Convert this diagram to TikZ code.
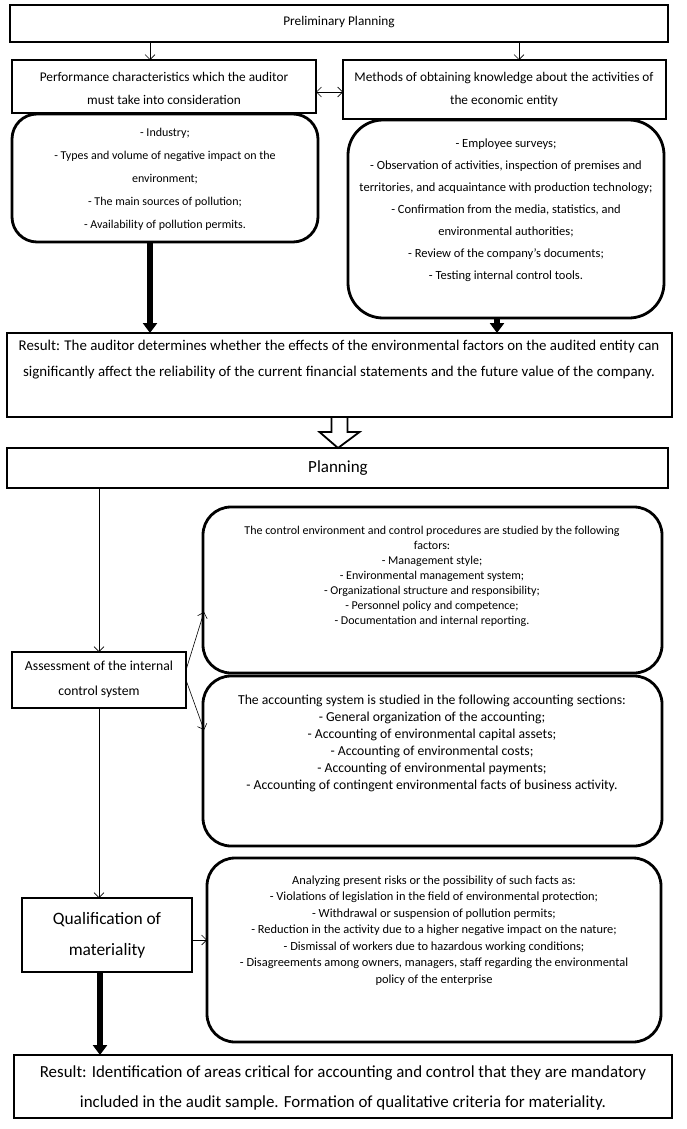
\documentclass[tikz,border=0pt]{standalone}
\usepackage{fontspec}
\setmainfont{Carlito}
\usetikzlibrary{arrows.meta,calc}
\newcommand\myfs[2]{\fontsize{#1}{#2}\selectfont}
\begin{document}
\begin{tikzpicture}[x=1pt,y=-1pt,
  sq/.style={draw,line width=2.8pt,inner sep=0pt,outer sep=0pt,anchor=north west},
  rnd/.style={sq,rounded corners=#1},
  rnd/.default=28pt,
  txt/.style={align=center,inner sep=0pt,anchor=north},
  thinarr/.style={line width=0.6pt,-{Straight Barb[length=5pt,width=10pt,line width=0.6pt]}},
  dblarr/.style={line width=0.6pt,{Straight Barb[length=5pt,width=10pt,line width=0.6pt]}-{Straight Barb[length=5pt,width=10pt,line width=0.6pt]}},
  thickarr/.style={line width=6pt,-{Triangle[length=10pt,width=14pt]}},
  hollow/.style={line width=1.8pt,line join=miter},
]
\useasboundingbox (0,0) rectangle (686,1129);
\fill[white] (0,0) rectangle (686,1129);

% boxes
\node[sq,minimum width=658pt,minimum height=37pt] (prelim) at (10,5) {};
\node[sq,minimum width=304pt,minimum height=53pt] (perf) at (12,60) {};
\node[sq,minimum width=323pt,minimum height=59pt] (meth) at (343,60) {};
\node[rnd=25pt,minimum width=306pt,minimum height=128pt] (lr) at (12,114) {};
\node[rnd=35pt,minimum width=316pt,minimum height=198pt] (rr) at (348,120) {};
\node[sq,minimum width=665pt,minimum height=84pt] (res1) at (7,333) {};
\node[sq,minimum width=661pt,minimum height=40pt] (plan) at (7,448) {};
\node[rnd,minimum width=459pt,minimum height=166pt] (b1) at (203,507) {};
\node[rnd,minimum width=459pt,minimum height=170pt] (b2) at (203,676) {};
\node[sq,minimum width=174pt,minimum height=56pt] (asm) at (12,652) {};
\node[sq,minimum width=170pt,minimum height=74pt] (qual) at (22,898) {};
\node[rnd,minimum width=454pt,minimum height=184pt] (b3) at (207,858) {};
\node[sq,minimum width=658pt,minimum height=63pt] (res2) at (14,1055) {};

% texts
\node[txt,font=\myfs{13.3}{15}] (tprelim) at (339,16.5) {Preliminary Planning};
\node[txt,font=\myfs{13.3}{23}] (tperf) at (164,72.3) {Performance characteristics which the auditor\\must take into consideration};
\node[txt,font=\myfs{13.3}{23}] (tmeth) at (504,72.3) {Methods of obtaining knowledge about the activities of\\the economic entity};
\node[txt,font=\myfs{12}{23}] (tlr) at (165,128) {- Industry;\\- Types and volume of negative impact on the\\environment;\\- The main sources of pollution;\\- Availability of pollution permits.};
\node[txt,font=\myfs{12.5}{22}] (trr) at (506,139) {- Employee surveys;\\- Observation of activities, inspection of premises and\\territories, and acquaintance with production technology;\\- Confirmation from the media, statistics, and\\environmental authorities;\\- Review of the company’s documents;\\- Testing internal control tools.};
\node[txt,font=\myfs{14.9}{26}] (tres1) at (339,340) {Result: The auditor determines whether the effects of the environmental factors on the audited entity can\\significantly affect the reliability of the current financial statements and the future value of the company.};
\node[txt,font=\myfs{17}{19}] (tplan) at (338,460.5) {Planning};
\node[txt,font=\myfs{12}{15}] (tb1) at (432,526.4) {The control environment and control procedures are studied by the following\\factors:\\- Management style;\\- Environmental management system;\\- Organizational structure and responsibility;\\- Personnel policy and competence;\\- Documentation and internal reporting.};
\node[txt,font=\myfs{13.7}{17}] (tb2) at (432,694.3) {The accounting system is studied in the following accounting sections:\\- General organization of the accounting;\\- Accounting of environmental capital assets;\\- Accounting of environmental costs;\\- Accounting of environmental payments;\\- Accounting of contingent environmental facts of business activity.};
\node[txt,font=\myfs{13.7}{25}] (tasm) at (99,661) {Assessment of the internal\\control system};
\node[txt,font=\myfs{17.4}{31}] (tqual) at (107,912) {Qualification of\\materiality};
\node[txt,font=\myfs{12.4}{16.5}] (tb3) at (434,875.2) {Analyzing present risks or the possibility of such facts as:\\- Violations of legislation in the field of environmental protection;\\- Withdrawal or suspension of pollution permits;\\- Reduction in the activity due to a higher negative impact on the nature;\\- Dismissal of workers due to hazardous working conditions;\\- Disagreements among owners, managers, staff regarding the environmental\\policy of the enterprise};
\node[txt,font=\myfs{16.9}{30}] (tres2) at (343,1066) {Result: Identification of areas critical for accounting and control that they are mandatory\\included in the audit sample. Formation of qualitative criteria for materiality.};

% connectors
\draw[thinarr] ($(prelim.south)+(-189,0)$) -- ($(perf.north)+(-14,0)$);
\draw[thinarr] ($(prelim.south)+(180,0)$) -- ($(meth.north)+(14.5,0)$);
\draw[dblarr] ($(perf.east)+(0,5.5)$) -- ($(meth.west)+(0,2.5)$);
\draw[thickarr] ($(lr.south)+(-15,0)$) -- ($(res1.north)+(-189.5,0)$);
\draw[thickarr] ($(rr.south)+(-9,0)$) -- ($(res1.north)+(157.5,0)$);
\draw[hollow] ($(res1.south)+(-8,0)$) -- ++(0,15) -- ++(-12,0) -- ($(plan.north)+(0.5,0)$) -- ($(res1.south)+(20,15)$) -- ++(-12,0) -- ++(0,-15);
\draw[thinarr] (asm.north |- plan.south) -- (asm.north);
\draw[thinarr] ($(asm.east)+(0,-10)$) -- ($(b1.west)+(1,22)$);
\draw[thinarr] (asm.east) -- ($(b2.west)+(1,-31)$);
\draw[thinarr] (asm.south) -- (asm.south |- qual.north);
\draw[thinarr] ($(qual.east)+(0,5)$) -- ($(qual.east)+(15,5)$);
\draw[thickarr] ($(qual.south)+(-7,0)$) -- ($(res2.north)+(-243,0)$);
\end{tikzpicture}
\end{document}
